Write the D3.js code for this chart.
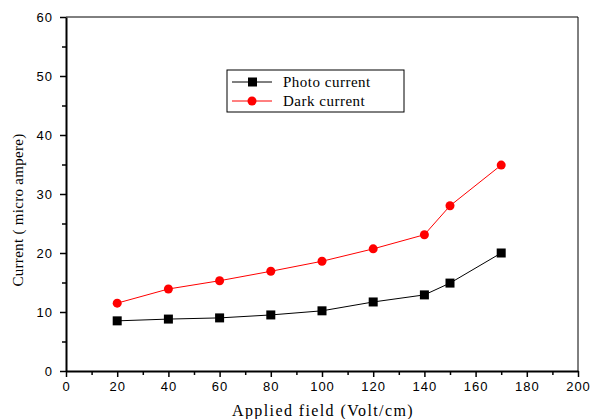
<!DOCTYPE html>
<html>
<head>
<meta charset="utf-8">
<script src="https://d3js.org/d3.v7.min.js"></script>
<style>
body { margin: 0; background: #fff; }
</style>
</head>
<body>
<div id="chart"></div>
<script>
const field = [20, 40, 60, 80, 100, 120, 140, 150, 170];
const photo = [8.5, 8.8, 9.0, 9.5, 10.2, 11.7, 12.9, 14.9, 20.0];
const dark = [11.5, 13.9, 15.3, 16.9, 18.6, 20.7, 23.1, 28.0, 34.9];
const xTicks = [0, 20, 40, 60, 80, 100, 120, 140, 160, 180, 200];
const yTicks = [0, 10, 20, 30, 40, 50, 60];

const margin = {top: 17, right: 14, bottom: 48, left: 66},
width = 592 - margin.left - margin.right,
height = 419 - margin.top - margin.bottom;

const svg = d3.select("#chart")
.append("svg")
.attr("width", 592)
.attr("height", 419)
.append("g")
.attr("transform", `translate(${margin.left}, ${margin.top})`);

const x = d3.scaleLinear().domain([0, 200]).range([0, width]);
const y = d3.scaleLinear().domain([0, 60]).range([height, 0]);

// frame top / right
svg.append("line").attr("x1", 0).attr("x2", width).attr("y1", 0).attr("y2", 0)
  .attr("stroke", "#000").attr("stroke-width", 1);
svg.append("line").attr("x1", width).attr("x2", width).attr("y1", 0).attr("y2", height)
  .attr("stroke", "#000").attr("stroke-width", 1);

// minor ticks
svg.append("g")
.attr("transform", `translate(0, ${height})`)
.call(d3.axisBottom(x).tickValues(d3.range(10, 200, 20)).tickSize(4).tickFormat(""))
.call(g => g.select(".domain").remove())
.selectAll("line").attr("stroke-width", 1.5);
svg.append("g")
.call(d3.axisLeft(y).tickValues(d3.range(5, 60, 10)).tickSize(4).tickFormat(""))
.call(g => g.select(".domain").remove())
.selectAll("line").attr("stroke-width", 1.5);

// X axis
const xAxis = svg.append("g")
.attr("transform", `translate(0, ${height})`)
.call(d3.axisBottom(x).tickValues(xTicks).tickSize(6).tickSizeOuter(0).tickPadding(5));
xAxis.select(".domain").attr("stroke-width", 2);
xAxis.selectAll("line").attr("stroke-width", 1.5);
xAxis.selectAll("text").attr("font-family", "Liberation Sans, Arial").attr("font-size", 13)
  .attr("letter-spacing", 1).attr("fill", "#000");

// Y axis
const yAxis = svg.append("g")
.call(d3.axisLeft(y).tickValues(yTicks).tickSize(6).tickSizeOuter(0).tickPadding(7));
yAxis.select(".domain").attr("stroke-width", 2);
yAxis.selectAll("line").attr("stroke-width", 1.5);
yAxis.selectAll("text").attr("font-family", "Liberation Sans, Arial").attr("font-size", 13)
  .attr("letter-spacing", 1).attr("fill", "#000");

// axis titles
svg.append("text")
.attr("x", 323 - margin.left)
.attr("y", 416 - margin.top)
.attr("text-anchor", "middle")
.attr("font-family", "Liberation Serif, Times New Roman")
.attr("font-size", 16)
.attr("letter-spacing", 1.4)
.text("Applied field (Volt/cm)");
svg.append("text")
.attr("transform", `translate(${23 - margin.left}, ${210 - margin.top}) rotate(-90)`)
.attr("text-anchor", "middle")
.attr("font-family", "Liberation Serif, Times New Roman")
.attr("font-size", 15)
.attr("letter-spacing", 0.3)
.text("Current ( micro ampere)");

// lines
const photoData = field.map((f, i) => ({f: f, v: photo[i]}));
const darkData = field.map((f, i) => ({f: f, v: dark[i]}));
const line = d3.line().x(d => x(d.f)).y(d => y(d.v));

svg.append("path").datum(darkData).attr("d", line)
  .attr("fill", "none").attr("stroke", "#ff0000").attr("stroke-width", 1);
svg.append("path").datum(photoData).attr("d", line)
  .attr("fill", "none").attr("stroke", "#000").attr("stroke-width", 1);

svg.append("g").selectAll("circle")
.data(darkData)
.join("circle")
  .attr("cx", d => x(d.f))
  .attr("cy", d => y(d.v))
  .attr("r", 4.5)
  .style("fill", "#ff0000");

svg.append("g").selectAll("rect")
.data(photoData)
.join("rect")
  .attr("x", d => x(d.f) - 4.5)
  .attr("y", d => y(d.v) - 4.5)
  .attr("width", 9)
  .attr("height", 9)
  .style("fill", "#000");

// legend
const lg = svg.append("g").attr("transform", `translate(${227 - margin.left}, ${70 - margin.top})`);
lg.append("rect").attr("width", 177).attr("height", 42)
  .attr("fill", "#fff").attr("stroke", "#000").attr("stroke-width", 1);
const items = [
  {name: "Photo current", color: "#000", shape: "square"},
  {name: "Dark current", color: "#ff0000", shape: "circle"}
];
items.forEach((it, i) => {
  const cy = 12 + i * 19;
  lg.append("line").attr("x1", 5).attr("x2", 45).attr("y1", cy).attr("y2", cy)
    .attr("stroke", it.color).attr("stroke-width", 1);
  if (it.shape === "square") {
    lg.append("rect").attr("x", 21).attr("y", cy - 4.5).attr("width", 9).attr("height", 9).attr("fill", it.color);
  } else {
    lg.append("circle").attr("cx", 25).attr("cy", cy).attr("r", 4.5).attr("fill", it.color);
  }
  lg.append("text").attr("x", 56).attr("y", cy + 5)
    .attr("font-family", "Liberation Serif, Times New Roman")
    .attr("font-size", 15)
    .attr("letter-spacing", 0.5)
    .text(it.name);
});
</script>
</body>
</html>
